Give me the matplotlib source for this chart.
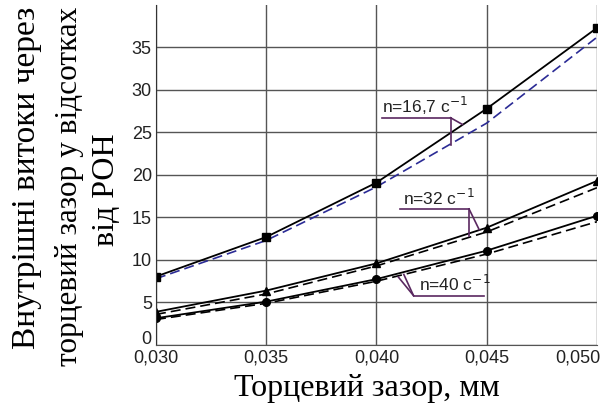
import numpy as np
import matplotlib
matplotlib.use("Agg")
import matplotlib.pyplot as plt
from matplotlib.transforms import ScaledTranslation

# torcevyi zazor, mm
gap = [0.030, 0.035, 0.040, 0.045, 0.050]
gap_labels = ["0,030", "0,035", "0,040", "0,045", "0,050"]
y_ticks = [0, 5, 10, 15, 20, 25, 30, 35]

# solid = experiment, dashed = calculation
n167_solid = [8.05, 12.7, 19.1, 27.8, 37.3]
n167_dash = [7.8, 12.3, 18.6, 26.1, 36.2]
n32_solid = [3.9, 6.4, 9.6, 13.8, 19.3]
n32_dash = [3.6, 6.0, 9.3, 13.3, 18.5]
n40_solid = [3.15, 5.1, 7.75, 11.1, 15.2]
n40_dash = [3.0, 4.9, 7.5, 10.7, 14.5]

ylabel_lines = ["Внутрішні витоки через", "торцевий зазор у відсотках", "від РОН"]

serif = ["Liberation Serif", "DejaVu Serif"]
sans = ["Liberation Sans", "DejaVu Sans"]
lead = "#5a2860"

fig = plt.figure(figsize=(6.11, 4.11), dpi=100)
ax = fig.add_axes([0.2553, 0.1606, 0.7217, 0.8274])

ax.plot(gap, n167_dash, color="#2b2b95", lw=1.2, dashes=(6, 3))
ax.plot(gap, n32_dash, color="black", lw=1.2, dashes=(6, 3))
ax.plot(gap, n40_dash, color="black", lw=1.2, dashes=(6, 3))
ax.plot(gap, n167_solid, "-", color="black", lw=1.3, marker="s", ms=6)
ax.plot(gap, n32_solid, "-", color="black", lw=1.3, marker="^", ms=5.5)
ax.plot(gap, n40_solid, "-", color="black", lw=1.3, marker="o", ms=5.5)

ax.set_xlim(0.030, 0.050)
ax.set_ylim(0, 40)
ax.set_xticks(gap)
ax.set_xticklabels(gap_labels, family=sans, fontsize=13, color="#222222")
ax.get_xticklabels()[-1].set_horizontalalignment("right")
ax.set_yticks(y_ticks)
ax.set_yticklabels([str(v) for v in y_ticks], family=sans, fontsize=13, color="#222222")
ax.tick_params(length=0, pad=3)
# lift the "0" a bit, as in the original
zero = ax.get_yticklabels()[0]
zero.set_transform(zero.get_transform() + ScaledTranslation(0, 0.07, fig.dpi_scale_trans))
last = ax.get_xticklabels()[-1]
last.set_transform(last.get_transform() + ScaledTranslation(0.04, 0, fig.dpi_scale_trans))
ax.grid(True, color="#555555", lw=1)
for s in ["top", "right"]:
    ax.spines[s].set_visible(False)
ax.spines["left"].set_color("#333333")
ax.spines["bottom"].set_color("#555555")

# labels on curves with leaders
ax.text(0.04026, 27.3, "n=16,7 c$^{-1}$", family=sans, fontsize=12.5, color="#222222")
ax.plot([0.04026, 0.04336], [26.73, 26.73], color=lead, lw=1.2)
ax.plot([0.04336, 0.04390], [26.73, 25.94], color=lead, lw=1.2)
ax.plot([0.04336, 0.04336], [26.73, 23.5], color=lead, lw=1.2)

ax.text(0.04121, 16.5, "n=32 c$^{-1}$", family=sans, fontsize=12.5, color="#222222")
ax.plot([0.04109, 0.04420], [16.0, 16.0], color=lead, lw=1.2)
ax.plot([0.04420, 0.04466], [16.0, 13.56], color=lead, lw=1.2)
ax.plot([0.04420, 0.04420], [16.0, 12.77], color=lead, lw=1.2)

ax.text(0.04192, 6.35, "n=40 c$^{-1}$", family=sans, fontsize=12.5, color="#222222")
ax.plot([0.04168, 0.04488], [5.81, 5.81], color=lead, lw=1.2)
ax.plot([0.04168, 0.04124], [5.81, 8.3], color=lead, lw=1.2)
ax.plot([0.04168, 0.04099], [5.81, 8.0], color=lead, lw=1.2)

fig.text(367 / 611, 1 - 388 / 411, "Торцевий зазор, мм", family=serif,
         fontsize=23, ha="center", va="center")
for (cx, cy, fs), line in zip([(27, 178, 24), (70, 186, 22.5), (107, 190, 23)], ylabel_lines):
    fig.text(cx / 611, 1 - cy / 411, line, family=serif, fontsize=fs,
             rotation=90, ha="center", va="center")

fig.savefig("out.png", dpi=100)
